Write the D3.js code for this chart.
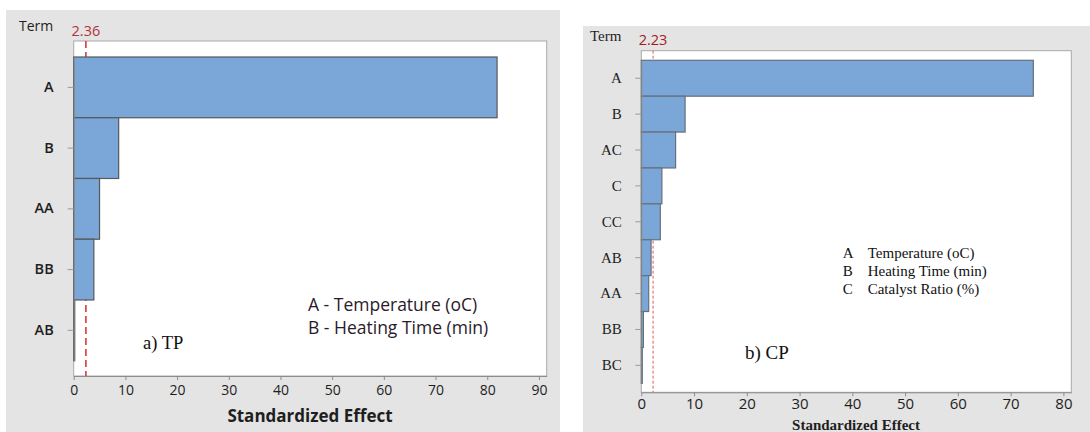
<!DOCTYPE html>
<html>
<head>
<meta charset="utf-8">
<script src="https://cdn.jsdelivr.net/npm/d3@7"></script>
<style>
  html, body { margin: 0; padding: 0; background: #ffffff; }
  svg { display: block; }
</style>
</head>
<body>
<svg id="chart" width="1090" height="432"></svg>
<script>
// Pareto chart of standardized effects — TP model
const tpTerms = ["A", "B", "AA", "BB", "AB"];
const tpEffects = [81.9, 8.7, 5.0, 3.9, 0.2];
const tpCritical = 2.36;
const tpTicks = [0, 10, 20, 30, 40, 50, 60, 70, 80, 90];
const tpLegend = ["A - Temperature (oC)", "B - Heating Time (min)"];

// Pareto chart of standardized effects — CP model
const cpTerms = ["A", "B", "AC", "C", "CC", "AB", "AA", "BB", "BC"];
const cpEffects = [74.3, 8.3, 6.5, 3.9, 3.6, 1.85, 1.4, 0.4, 0.2];
const cpCritical = 2.23;
const cpTicks = [0, 10, 20, 30, 40, 50, 60, 70, 80];
const cpLegendKeys = ["A", "B", "C"];
const cpLegendNames = ["Temperature (oC)", "Heating Time (min)", "Catalyst Ratio (%)"];

const svg = d3.select("#chart");
const barFill = "#7ba6d8";
const sans = "'Open Sans', sans-serif";
const serif = "'Liberation Serif', 'Times New Roman', serif";

function drawPanel(cfg) {
  const g = svg.append("g");

  // panel background
  g.append("rect")
    .attr("x", cfg.bg[0]).attr("y", cfg.bg[1])
    .attr("width", cfg.bg[2]).attr("height", cfg.bg[3])
    .attr("fill", "#e4e4e4");

  const x = d3.scaleLinear().domain([0, cfg.xMax]).range([cfg.left, cfg.right]);
  const y = d3.scaleBand().domain(cfg.terms).range([cfg.barTop, cfg.barBottom]).padding(0);

  // plot area
  g.append("rect")
    .attr("x", cfg.left).attr("y", cfg.top)
    .attr("width", cfg.right - cfg.left).attr("height", cfg.bottom - cfg.top)
    .attr("fill", "#ffffff").attr("stroke", "#a9a9a9").attr("stroke-width", 1);

  // critical value reference line (behind the bars)
  g.append("line")
    .attr("x1", x(cfg.critical)).attr("x2", x(cfg.critical))
    .attr("y1", cfg.top).attr("y2", cfg.bottom)
    .attr("stroke", cfg.refColor).attr("stroke-width", cfg.refWidth)
    .attr("stroke-dasharray", cfg.refDash);

  // bars
  g.selectAll("rect.bar")
    .data(cfg.terms.map((t, i) => ({ term: t, value: cfg.effects[i] })))
    .join("rect")
    .attr("class", "bar")
    .attr("x", x(0))
    .attr("y", d => y(d.term))
    .attr("width", d => x(d.value) - x(0))
    .attr("height", y.bandwidth())
    .attr("fill", barFill)
    .attr("stroke", cfg.barStroke)
    .attr("stroke-width", 1.2);

  // y axis
  const yAxis = g.append("g")
    .attr("transform", `translate(${cfg.left},0)`)
    .call(d3.axisLeft(y).tickSize(6).tickPadding(cfg.yPad).tickSizeOuter(0));
  yAxis.select(".domain").attr("stroke", "#8c8c8c");
  yAxis.selectAll(".tick line").attr("stroke", "#9a9a9a");
  yAxis.selectAll(".tick text")
    .attr("font-family", cfg.yFont).attr("font-size", cfg.yFontSize)
    .attr("font-weight", cfg.yWeight).attr("fill", "#1e1e1e");

  // x axis
  const xAxis = g.append("g")
    .attr("transform", `translate(0,${cfg.bottom})`)
    .call(d3.axisBottom(x).tickValues(cfg.ticks).tickSize(4).tickPadding(cfg.xPad).tickSizeOuter(0));
  xAxis.select(".domain").attr("stroke", "#8c8c8c");
  xAxis.selectAll(".tick line").attr("stroke", "#8c8c8c");
  xAxis.selectAll(".tick text")
    .attr("font-family", sans).attr("font-size", cfg.xFontSize)
    .attr("fill", "#1e1e1e");

  // axis titles
  g.append("text")
    .attr("x", cfg.termX).attr("y", cfg.termY)
    .attr("font-family", cfg.yFont).attr("font-size", cfg.termSize)
    .attr("fill", "#1e1e1e").text("Term");

  g.append("text")
    .attr("x", cfg.titleX).attr("y", cfg.titleY)
    .attr("text-anchor", "middle")
    .attr("font-family", cfg.titleFont).attr("font-size", cfg.titleSize)
    .attr("font-weight", "bold").attr("fill", "#1e1e1e")
    .text("Standardized Effect");

  // critical value label
  g.append("text")
    .attr("x", x(cfg.critical)).attr("y", cfg.critY)
    .attr("text-anchor", "middle")
    .attr("font-family", sans).attr("font-size", cfg.critSize)
    .attr("fill", cfg.critColor)
    .text(d3.format(".2f")(cfg.critical));

  // panel caption
  g.append("text")
    .attr("x", cfg.capX).attr("y", cfg.capY)
    .attr("font-family", serif)
    .attr("font-size", cfg.capSize).attr("fill", "#111")
    .text(cfg.caption);

  return g;
}

// Panel a) TP
const gTP = drawPanel({
  bg: [6, 10, 554, 422],
  terms: tpTerms, effects: tpEffects, critical: tpCritical, ticks: tpTicks,
  xMax: 91.5, left: 73.7, right: 546.7, top: 41, bottom: 376,
  barTop: 57, barBottom: 360.7, barStroke: "#55585c",
  refColor: "#d83a40", refWidth: 1.6, refDash: "7,4",
  yFont: sans, yFontSize: 14.5, yWeight: 600, yPad: 14,
  xFontSize: 14, xPad: 5,
  termX: 19, termY: 30.5, termSize: 14,
  titleX: 310, titleY: 422, titleFont: sans, titleSize: 17,
  critY: 36, critSize: 14.5, critColor: "#b5323a",
  capX: 143, capY: 349, capSize: 18.5, caption: "a) TP"
});

gTP.selectAll("text.legend")
  .data(tpLegend)
  .join("text")
  .attr("class", "legend")
  .attr("x", 308)
  .attr("y", (d, i) => 311 + i * 23)
  .attr("font-family", sans)
  .attr("font-size", 17.5)
  .attr("fill", "#2a1a2a")
  .text(d => d);

// Panel b) CP
const gCP = drawPanel({
  bg: [583, 26, 507, 406],
  terms: cpTerms, effects: cpEffects, critical: cpCritical, ticks: cpTicks,
  xMax: 81.5, left: 641.3, right: 1071.3, top: 50.7, bottom: 392.3,
  barTop: 60.3, barBottom: 383.3, barStroke: "#66707c",
  refColor: "#e05a5a", refWidth: 1, refDash: "3,2",
  yFont: serif, yFontSize: 15, yWeight: 400, yPad: 13.5,
  xFontSize: 15, xPad: 2,
  termX: 590, termY: 41, termSize: 15,
  titleX: 856, titleY: 430, titleFont: serif, titleSize: 15,
  critY: 45, critSize: 14.5, critColor: "#a51c1c",
  capX: 745, capY: 359, capSize: 19, caption: "b) CP"
});

const cpLegend = gCP.selectAll("g.legend")
  .data(cpLegendKeys.map((k, i) => ({ key: k, name: cpLegendNames[i] })))
  .join("g")
  .attr("class", "legend")
  .attr("transform", (d, i) => `translate(0,${258 + i * 18})`);
cpLegend.append("text")
  .attr("x", 842.7)
  .attr("font-family", serif)
  .attr("font-size", 15).attr("fill", "#111")
  .text(d => d.key);
cpLegend.append("text")
  .attr("x", 867.7)
  .attr("font-family", serif)
  .attr("font-size", 15).attr("fill", "#111")
  .text(d => d.name);
</script>
</body>
</html>
